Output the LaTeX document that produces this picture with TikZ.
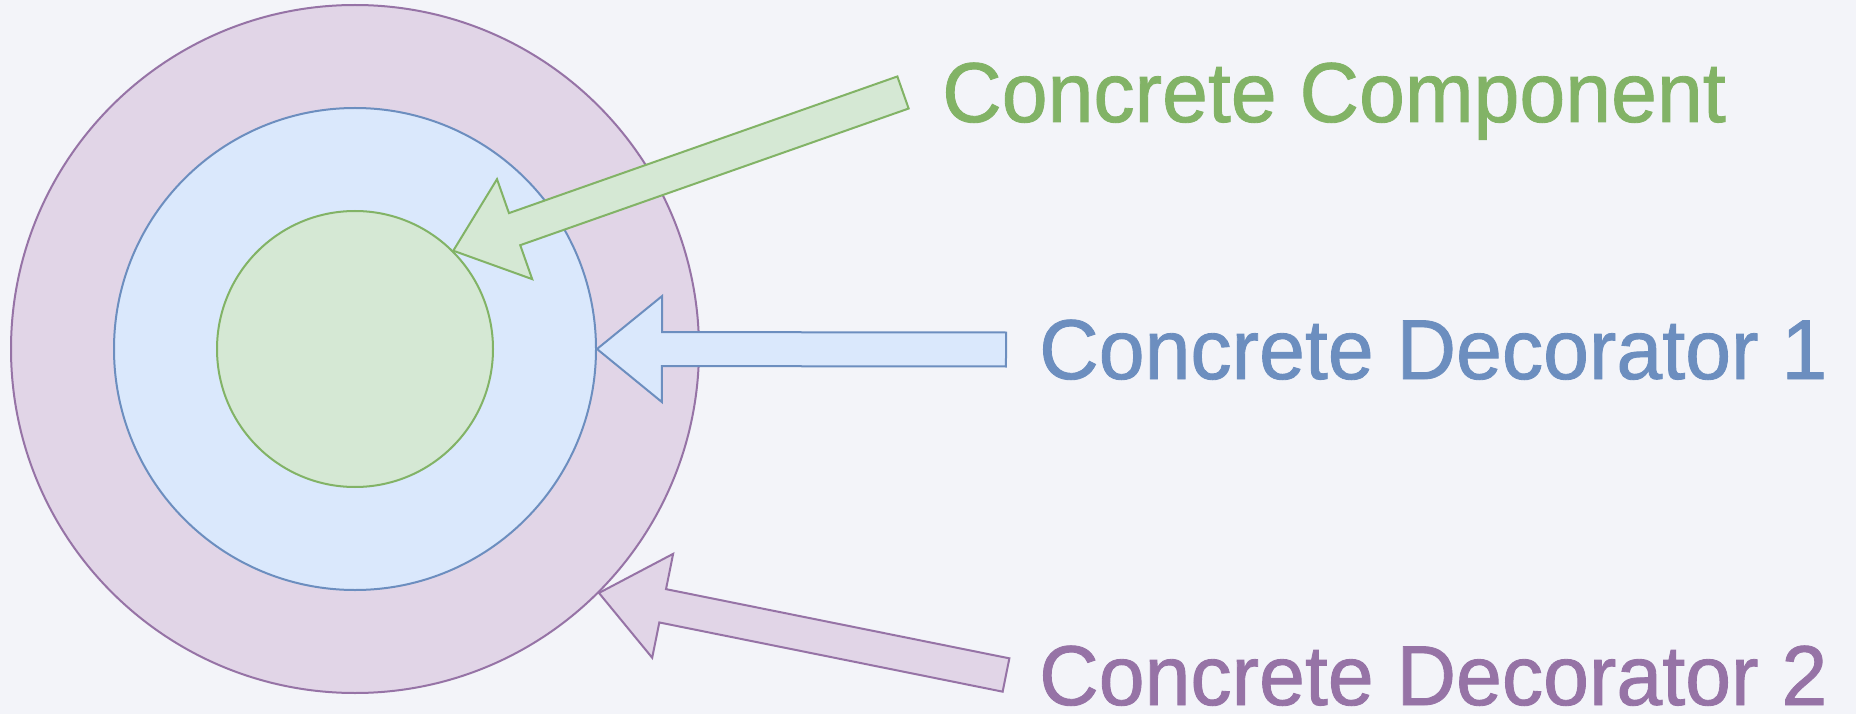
\documentclass[tikz,border=0pt]{standalone}
\usepackage{fontspec}
\setmainfont{Liberation Sans}
\newfontfamily\labelfont[FakeStretch=0.97, FakeBold=1.0]{Liberation Sans}
\usetikzlibrary{calc}

\definecolor{bg}{HTML}{F3F4F9}
\definecolor{purpleFill}{HTML}{E1D5E7}
\definecolor{purpleLine}{HTML}{9673A6}
\definecolor{blueFill}{HTML}{DAE8FC}
\definecolor{blueLine}{HTML}{6C8EBF}
\definecolor{greenFill}{HTML}{D5E8D4}
\definecolor{greenLine}{HTML}{82B366}

% block arrow: #1 style, #2 tail coordinate, #3 tip coordinate, #4 prefix for helper point
\newcommand\blockarrow[4]{%
  \coordinate (#4h) at ($(#3)!65pt!(#2)$);
  \draw[#1] ($(#2)!17pt!90:(#3)$) -- ($(#4h)!17pt!90:(#3)$) -- ($(#4h)!53pt!90:(#3)$)
    -- (#3) -- ($(#4h)!53pt!-90:(#3)$) -- ($(#4h)!17pt!-90:(#3)$)
    -- ($(#2)!17pt!-90:(#3)$) -- cycle;
}

\tikzset{
  ring/.style={circle, inner sep=0pt, line width=2pt},
  purplering/.style={ring, draw=purpleLine, fill=purpleFill},
  bluering/.style={ring, draw=blueLine, fill=blueFill},
  greenring/.style={ring, draw=greenLine, fill=greenFill},
  greenarrow/.style={draw=greenLine, fill=greenFill, line width=2pt},
  bluearrow/.style={draw=blueLine, fill=blueFill, line width=2pt},
  purplearrow/.style={draw=purpleLine, fill=purpleFill, line width=2pt},
  label/.style={anchor=base west, inner sep=0pt, text depth=0pt,
    font=\labelfont\fontsize{85}{90}\selectfont},
}

\begin{document}
\begin{tikzpicture}[x=1pt, y=-1pt]
  \useasboundingbox (0,0) rectangle (1856,714);
  \fill[bg] (0,0) rectangle (1856,714);

  % nested circles
  \node[purplering, minimum size=688pt] (outer) at (355,349) {};
  \node[bluering, minimum size=482pt] (mid) at (355,349) {};
  \node[greenring, minimum size=276pt] (inner) at (355,349) {};

  % labels
  \node[label, text=greenLine] (lcomp) at (942,122) {Concrete Component};
  \node[label, text=blueLine] (ldec1) at (1039,379) {Concrete Decorator 1};
  \node[label, text=purpleLine] (ldec2) at (1039,705) {Concrete Decorator 2};

  % arrow tails
  \coordinate (tcomp) at (903,92.5);
  \coordinate (tdec1) at (1006,349.5);
  \coordinate (tdec2) at (1006,675);

  % block arrows
  \blockarrow{greenarrow}{tcomp}{inner.45}{ac}
  \blockarrow{bluearrow}{tdec1}{mid.east}{ad}
  \blockarrow{purplearrow}{tdec2}{outer.-45}{ae}
\end{tikzpicture}
\end{document}
